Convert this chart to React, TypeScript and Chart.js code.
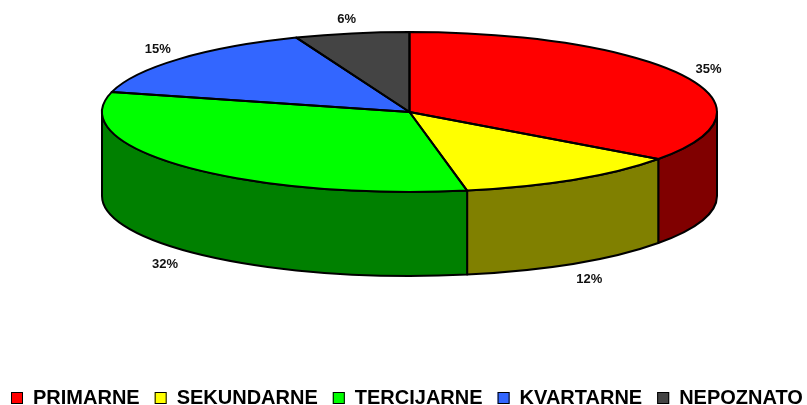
import React, { useEffect, useRef } from 'react';
import { Chart, registerables } from 'chart.js';

Chart.register(...registerables);

const categories = ['PRIMARNE', 'SEKUNDARNE', 'TERCIJARNE', 'KVARTARNE', 'NEPOZNATO'];
const values = [35, 12, 32, 15, 6];
const topColors = ['#FF0000', '#FFFF00', '#00FF00', '#3366FF', '#444444'];
const sideColors = ['#800000', '#808000', '#008000', '#1A337F', '#222222'];

// 3D look parameters (style, not data)
const RY = 80; // vertical radius of top ellipse
const DEPTH = 84; // height of the extruded side
const LABEL_OFF_X = 28;
const LABEL_OFF_Y = 14;
const LABEL_BOTTOM_EXTRA = 4;
const FONT = '"Liberation Sans", Arial, sans-serif';

function geom(chart: any) {
  const a = chart.chartArea;
  const rx = (a.right - a.left) / 2;
  const cx = (a.left + a.right) / 2;
  const cy = a.top + RY;
  return { cx, cy, rx, ry: RY };
}

const pie3d = {
  id: 'pie3d',
  beforeDatasetsDraw(chart: any) {
    const ctx = chart.ctx;
    const meta = chart.getDatasetMeta(0);
    const { cx, cy, rx, ry } = geom(chart);
    // sides
    ctx.save();
    ctx.lineWidth = 2;
    ctx.lineJoin = 'round';
    ctx.strokeStyle = '#000';
    meta.data.forEach((arc: any, i: number) => {
      const s = arc.startAngle;
      const e = arc.endAngle;
      const a1 = Math.max(s, 0);
      const a2 = Math.min(e, Math.PI);
      if (a1 >= a2) return;
      ctx.beginPath();
      ctx.ellipse(cx, cy, rx, ry, 0, a1, a2, false);
      ctx.lineTo(cx + rx * Math.cos(a2), cy + ry * Math.sin(a2) + DEPTH);
      ctx.ellipse(cx, cy + DEPTH, rx, ry, 0, a2, a1, true);
      ctx.closePath();
      ctx.fillStyle = sideColors[i];
      ctx.fill();
      ctx.stroke();
    });
    ctx.restore();
    // squash the pie top into an ellipse
    const arc0 = meta.data[0];
    const r = arc0.outerRadius;
    ctx.save();
    ctx.translate(cx, cy);
    ctx.scale(rx / r, ry / r);
    ctx.translate(-arc0.x, -arc0.y);
  },
  afterDatasetsDraw(chart: any) {
    const ctx = chart.ctx;
    ctx.restore();
    const meta = chart.getDatasetMeta(0);
    const { cx, cy, rx, ry } = geom(chart);
    ctx.save();
    ctx.lineWidth = 2;
    ctx.lineJoin = 'round';
    ctx.strokeStyle = '#000';
    meta.data.forEach((arc: any) => {
      const s = arc.startAngle;
      const e = arc.endAngle;
      ctx.beginPath();
      ctx.moveTo(cx, cy);
      ctx.lineTo(cx + rx * Math.cos(s), cy + ry * Math.sin(s));
      ctx.ellipse(cx, cy, rx, ry, 0, s, e, false);
      ctx.closePath();
      ctx.stroke();
    });
    // labels
    const total = values.reduce((p, v) => p + v, 0);
    ctx.fillStyle = '#111';
    ctx.font = `bold 13px ${FONT}`;
    ctx.textAlign = 'center';
    ctx.textBaseline = 'middle';
    meta.data.forEach((arc: any, i: number) => {
      const m = (arc.startAngle + arc.endAngle) / 2;
      const c = Math.cos(m);
      const sn = Math.sin(m);
      const x = cx + (rx + LABEL_OFF_X) * c;
      let y = cy + (ry + LABEL_OFF_Y) * sn;
      if (sn > 0) y += DEPTH + LABEL_BOTTOM_EXTRA;
      ctx.fillText(`${Math.round((values[i] / total) * 100)}%`, x, y);
    });
    ctx.restore();
  },
  afterDraw(chart: any) {
    const ctx = chart.ctx;
    ctx.save();
    ctx.font = `bold 20px ${FONT}`;
    ctx.textAlign = 'left';
    ctx.textBaseline = 'alphabetic';
    let x = 11;
    const boxY = 392;
    const box = 12;
    categories.forEach((name, i) => {
      ctx.fillStyle = topColors[i];
      ctx.fillRect(x, boxY, box, box);
      ctx.lineWidth = 1;
      ctx.strokeStyle = '#000';
      ctx.strokeRect(x + 0.5, boxY + 0.5, box - 1, box - 1);
      ctx.fillStyle = '#000';
      const tx = x + 22;
      ctx.fillText(name, tx, 404);
      x = tx + ctx.measureText(name).width + 15;
    });
    ctx.restore();
  },
};

export default function App() {
  const ref = useRef<HTMLCanvasElement | null>(null);
  useEffect(() => {
    document.body.style.margin = '0';
    const canvas = ref.current;
    if (!canvas) return;
    const chart = new Chart(canvas, {
      type: 'pie',
      data: {
        labels: categories,
        datasets: [
          {
            data: values,
            backgroundColor: topColors,
            borderWidth: 0,
            clip: false,
          } as any,
        ],
      },
      options: {
        animation: false,
        responsive: false,
        events: [],
        rotation: 0,
        layout: { padding: { left: 102, right: 90, top: 32, bottom: 60 } },
        plugins: {
          legend: { display: false },
          tooltip: { enabled: false },
          title: { display: false },
        },
      },
      plugins: [pie3d],
    });
    return () => chart.destroy();
  }, []);
  return (
    <div style={{ width: 807, height: 405, background: '#fff' }}>
      <canvas ref={ref} width={807} height={405} style={{ display: 'block' }} />
    </div>
  );
}
